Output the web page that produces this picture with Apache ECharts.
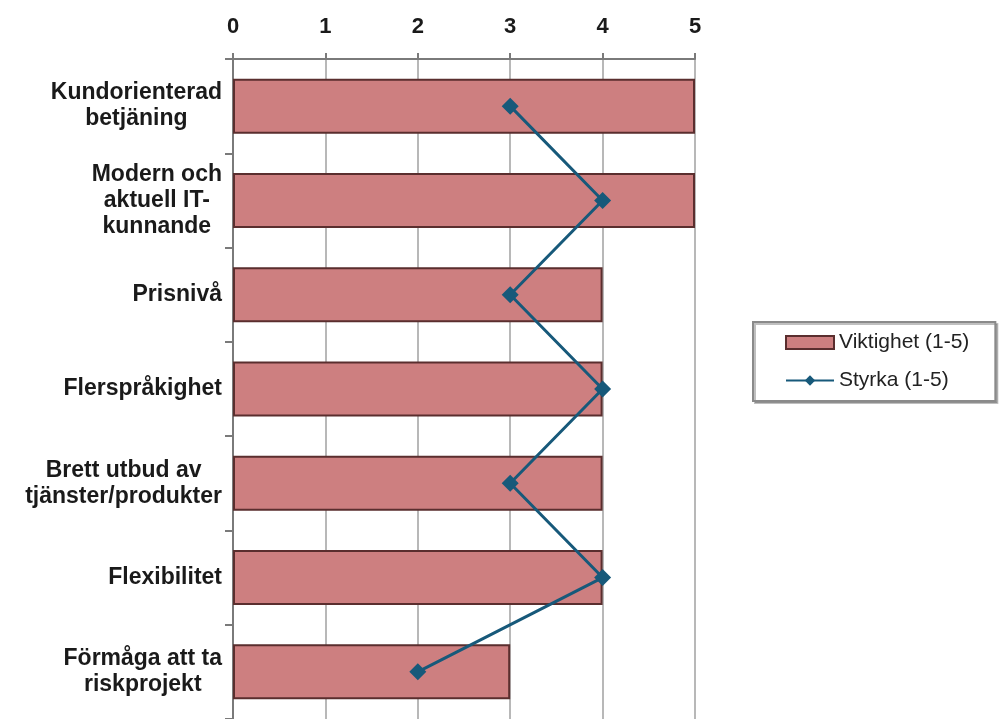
<!DOCTYPE html>
<html>
<head>
<meta charset="utf-8">
<script src="https://cdn.jsdelivr.net/npm/echarts@6/dist/echarts.min.js"></script>
<style>
  html, body { margin: 0; padding: 0; background: #fff; }
  #chart { width: 1000px; height: 719px; }
</style>
</head>
<body>
<div id="chart"></div>
<script>
// kategorier, uppifrån och ned
var categories = [
  'Kundorienterad\nbetjäning',
  'Modern och\naktuell IT-\nkunnande',
  'Prisnivå',
  'Flerspråkighet',
  'Brett utbud av\ntjänster/produkter',
  'Flexibilitet',
  'Förmåga att ta\nriskprojekt'
];
var viktighet = [5, 5, 4, 4, 4, 4, 3];
var styrka = [3, 4, 3, 4, 3, 4, 2];
var xTicks = [0, 1, 2, 3, 4, 5];

var lineData = [];
for (var i = 0; i < categories.length; i++) {
  lineData.push([styrka[i], categories[i]]);
}

var myChart = echarts.init(document.getElementById('chart'));
var option = {
  backgroundColor: '#fff',
  animation: false,
  textStyle: { fontFamily: 'Liberation Sans, Arial, sans-serif' },
  grid: {
    left: 233,
    right: 305,
    top: 59,
    bottom: -6,
    containLabel: false
  },
  legend: {
    orient: 'vertical',
    left: 753,
    top: 322,
    padding: [10, 26, 10, 32],
    itemGap: 17,
    itemWidth: 48,
    itemHeight: 13,
    backgroundColor: '#fff',
    borderColor: '#8a8a8a',
    borderWidth: 2,
    shadowColor: 'rgba(0,0,0,0.25)',
    shadowOffsetX: 2,
    shadowOffsetY: 2,
    textStyle: { fontSize: 21, color: '#222', fontFamily: 'Liberation Sans, Arial, sans-serif' },
    data: [{ name: 'Viktighet (1-5)', icon: 'rect' }, 'Styrka (1-5)']
  },
  xAxis: {
    type: 'value',
    position: 'top',
    min: xTicks[0],
    max: xTicks[xTicks.length - 1],
    interval: 1,
    axisLine: { show: true, lineStyle: { color: '#7a7a7a', width: 2 } },
    axisTick: { show: true, length: 6, lineStyle: { color: '#7a7a7a', width: 2 } },
    axisLabel: { fontSize: 22, fontWeight: 'bold', color: '#1a1a1a', margin: 21 },
    splitLine: { show: true, lineStyle: { color: '#b8b8b8', width: 2 } }
  },
  yAxis: {
    type: 'category',
    inverse: true,
    data: categories,
    axisLine: { show: true, lineStyle: { color: '#7a7a7a', width: 2 } },
    axisTick: { show: true, length: 8, lineStyle: { color: '#7a7a7a', width: 2 } },
    axisLabel: {
      margin: 11,
      formatter: function (v) {
        return v.split('\n').map(function (s) { return '{c|' + s + '}'; }).join('\n');
      },
      rich: {
        c: { align: 'center', fontSize: 23, fontWeight: 'bold', color: '#1a1a1a', lineHeight: 26,
             fontFamily: 'Liberation Sans, Arial, sans-serif' }
      }
    },
    splitLine: { show: false }
  },
  series: [
    {
      name: 'Viktighet (1-5)',
      type: 'bar',
      barWidth: 55,
      data: viktighet,
      itemStyle: { color: '#cd7f80', borderColor: '#5a2e2e', borderWidth: 2 }
    },
    {
      name: 'Styrka (1-5)',
      type: 'line',
      data: lineData,
      symbol: 'diamond',
      symbolSize: 17,
      lineStyle: { color: '#17597a', width: 3 },
      itemStyle: { color: '#17597a' }
    }
  ]
};
myChart.setOption(option);
</script>
</body>
</html>
